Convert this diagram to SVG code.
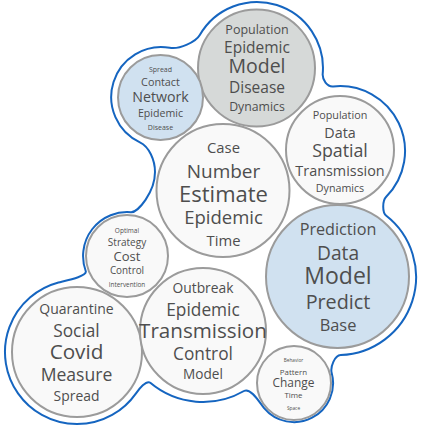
<svg xmlns="http://www.w3.org/2000/svg" width="424" height="428" viewBox="0 0 424 428">
<style>
.c{stroke:#9b9b9b;stroke-width:2}
.w{fill:#f9f9f9}
.b{fill:#d0e1f0}
.g{fill:#d6d9d8}
text{font-family:"Open Sans","Noto Sans","Liberation Sans",sans-serif;fill:#4e4e4e;text-anchor:middle}
.hull{fill:none;stroke:#1565c0;stroke-width:2}
</style>
<rect width="424" height="428" fill="#ffffff"/>
<g id="connectors">
<path class="hull" d="M 199.8 35 A 66 66 0 0 1 322.7 73.8 C 322.2 79.8 327.2 87 333.2 86.4 A 65 65 0 0 1 386 197 C 382.5 200.5 382.1 212.4 386 215.5 A 78 78 0 0 1 340.7 355 C 334.7 355.2 330.1 367.1 331.7 372.9 A 39 39 0 0 1 264.1 408.1 C 260.2 403.5 250.9 387 244 391 A 82 82 0 0 1 150.3 382.8 C 146.5 379.6 138.9 389.2 136 393.3 A 72 72 0 1 1 58.4 282.5 C 64.2 280.9 87.8 276.6 85.7 271 A 44 44 0 0 1 130.8 212.2 C 137.8 212.8 155 192 155 172 C 155 160 149 146.5 139.9 142.3 A 50 50 0 0 1 169.7 47.8 C 179.6 49.5 195.8 41.9 199.8 35 Z"/>
</g>
<g id="population">
<circle class="c g" cx="256.5" cy="68" r="58.5"/>
<text x="257" y="34" font-size="12.5">Population</text>
<text x="257" y="53.3" font-size="15.5">Epidemic</text>
<text x="257" y="73.3" font-size="19.5">Model</text>
<text x="257" y="93.3" font-size="15.5">Disease</text>
<text x="257" y="110.7" font-size="12.3">Dynamics</text>
</g>
<g id="network">
<circle class="c b" cx="160.5" cy="97.5" r="42.5"/>
<text x="160.5" y="71.7" font-size="7">Spread</text>
<text x="160.5" y="86" font-size="10.8">Contact</text>
<text x="160.5" y="101.7" font-size="14.2">Network</text>
<text x="160.5" y="116.7" font-size="10.6">Epidemic</text>
<text x="160.5" y="130" font-size="7">Disease</text>
</g>
<g id="case">
<circle class="c w" cx="223" cy="190.5" r="66.5"/>
<text x="223.5" y="153.3" font-size="14.8">Case</text>
<text x="223.5" y="178.3" font-size="19">Number</text>
<text x="223.5" y="201.7" font-size="22">Estimate</text>
<text x="223.5" y="224.3" font-size="18.5">Epidemic</text>
<text x="223.5" y="246" font-size="14.8">Time</text>
</g>
<g id="spatial">
<circle class="c w" cx="340" cy="150" r="54"/>
<text x="340" y="119.3" font-size="10.8">Population</text>
<text x="340" y="138.3" font-size="14.3">Data</text>
<text x="340" y="157.3" font-size="17.8">Spatial</text>
<text x="340" y="176" font-size="14.4">Transmission</text>
<text x="340" y="192.3" font-size="10.7">Dynamics</text>
</g>
<g id="prediction">
<circle class="c b" cx="337.5" cy="276.5" r="71.5"/>
<text x="338" y="235" font-size="16.2">Prediction</text>
<text x="338" y="260" font-size="19.2">Data</text>
<text x="338" y="284" font-size="23">Model</text>
<text x="338" y="309" font-size="19.8">Predict</text>
<text x="338" y="330.7" font-size="16.4">Base</text>
</g>
<g id="optimal">
<circle class="c w" cx="127" cy="256" r="41"/>
<text x="127" y="232.7" font-size="6.5">Optimal</text>
<text x="127" y="245.7" font-size="10">Strategy</text>
<text x="127" y="260.7" font-size="13">Cost</text>
<text x="127" y="274" font-size="9.9">Control</text>
<text x="127" y="287.3" font-size="6.4">Intervention</text>
</g>
<g id="quarantine">
<circle class="c w" cx="77" cy="352" r="65"/>
<text x="76.5" y="314" font-size="14">Quarantine</text>
<text x="76.5" y="337.3" font-size="17.3">Social</text>
<text x="76.5" y="359.3" font-size="20.7">Covid</text>
<text x="76.5" y="381" font-size="17.6">Measure</text>
<text x="76.5" y="400.7" font-size="13.9">Spread</text>
</g>
<g id="outbreak">
<circle class="c w" cx="203" cy="331" r="63"/>
<text x="203" y="293.3" font-size="13.8">Outbreak</text>
<text x="203" y="316" font-size="17.3">Epidemic</text>
<text x="203" y="338.3" font-size="20.6">Transmission</text>
<text x="203" y="360" font-size="17.3">Control</text>
<text x="203" y="379.3" font-size="13.6">Model</text>
</g>
<g id="behavior">
<circle class="c w" cx="294" cy="383" r="37"/>
<text x="293.5" y="361.7" font-size="4.7">Behavior</text>
<text x="293.5" y="375" font-size="7.9">Pattern</text>
<text x="293.5" y="386.7" font-size="11.9">Change</text>
<text x="293.5" y="398.3" font-size="7.9">Time</text>
<text x="293.5" y="410" font-size="4.8">Space</text>
</g>
</svg>
